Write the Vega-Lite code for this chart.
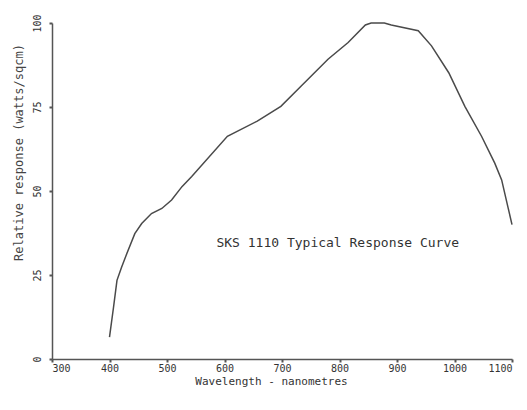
{
  "$schema": "https://vega.github.io/schema/vega-lite/v6.json",
  "width": 460,
  "height": 336,
  "autosize": "none",
  "padding": {"left": 52, "top": 23, "right": 15, "bottom": 51},
  "background": "white",
  "config": {"view": {"stroke": null}},
  "datasets": {
    "curve": [
      {"wl": 400, "resp": 6.5},
      {"wl": 407, "resp": 15.4},
      {"wl": 413, "resp": 23.4},
      {"wl": 421, "resp": 27.3},
      {"wl": 430, "resp": 31.3},
      {"wl": 444, "resp": 37.3},
      {"wl": 456, "resp": 40.3},
      {"wl": 473, "resp": 43.3},
      {"wl": 491, "resp": 44.8},
      {"wl": 508, "resp": 47.3},
      {"wl": 526, "resp": 51.3},
      {"wl": 543, "resp": 54.3},
      {"wl": 605, "resp": 66.3},
      {"wl": 657, "resp": 70.8},
      {"wl": 698, "resp": 75.2},
      {"wl": 733, "resp": 81.2},
      {"wl": 780, "resp": 89.2},
      {"wl": 815, "resp": 94.2},
      {"wl": 845, "resp": 99.4},
      {"wl": 855, "resp": 100},
      {"wl": 878, "resp": 100},
      {"wl": 890, "resp": 99.4},
      {"wl": 937, "resp": 97.7},
      {"wl": 960, "resp": 93.2},
      {"wl": 990, "resp": 85.2},
      {"wl": 1018, "resp": 75.2},
      {"wl": 1047, "resp": 66.3},
      {"wl": 1070, "resp": 58.3},
      {"wl": 1082, "resp": 53.3},
      {"wl": 1100, "resp": 40}
    ],
    "note": [
      {"wl": 797, "resp": 34.5, "label": "SKS 1110 Typical Response Curve"}
    ]
  },
  "layer": [
    {
      "data": {"name": "curve"},
      "mark": {"type": "line", "color": "#4a4a4a", "strokeWidth": 1.5},
      "encoding": {
        "x": {
          "field": "wl", "type": "quantitative",
          "scale": {"domain": [300, 1100], "nice": false, "zero": false},
          "axis": {
            "values": [300, 400, 500, 600, 700, 800, 900, 1000, 1100],
            "format": "d",
            "title": "Wavelength - nanometres",
            "grid": false,
            "domainColor": "#555", "domainWidth": 1.5,
            "tickColor": "#555", "tickSize": 3, "tickWidth": 2,
            "labelFont": "DejaVu Sans Mono", "labelFontSize": 10, "labelColor": "#333",
            "labelPadding": 1,
            "titleFont": "DejaVu Sans Mono", "titleFontSize": 11, "titleFontWeight": "normal",
            "titleColor": "#333", "titleX": 219, "titleY": 16
          }
        },
        "y": {
          "field": "resp", "type": "quantitative",
          "scale": {"domain": [0, 100], "nice": false},
          "axis": {
            "values": [0, 25, 50, 75, 100],
            "title": "Relative response (watts/sqcm)",
            "grid": false,
            "domainColor": "#555", "domainWidth": 1.5,
            "tickColor": "#555", "tickSize": 3, "tickWidth": 2,
            "labelFont": "DejaVu Sans Mono", "labelFontSize": 10, "labelColor": "#333",
            "labelAngle": -90, "labelAlign": "center", "labelBaseline": "bottom",
            "labelPadding": 7,
            "titleFont": "DejaVu Sans Mono", "titleFontSize": 12, "titleFontWeight": "normal",
            "titleColor": "#444", "titleX": -34, "titleY": 129, "titleAngle": -90,
            "titleAlign": "center", "titleBaseline": "middle"
          }
        }
      }
    },
    {
      "data": {"name": "note"},
      "mark": {"type": "text", "font": "DejaVu Sans Mono", "fontSize": 13, "color": "#333", "align": "center", "baseline": "middle"},
      "encoding": {
        "x": {"field": "wl", "type": "quantitative"},
        "y": {"field": "resp", "type": "quantitative"},
        "text": {"field": "label"}
      }
    }
  ]
}
